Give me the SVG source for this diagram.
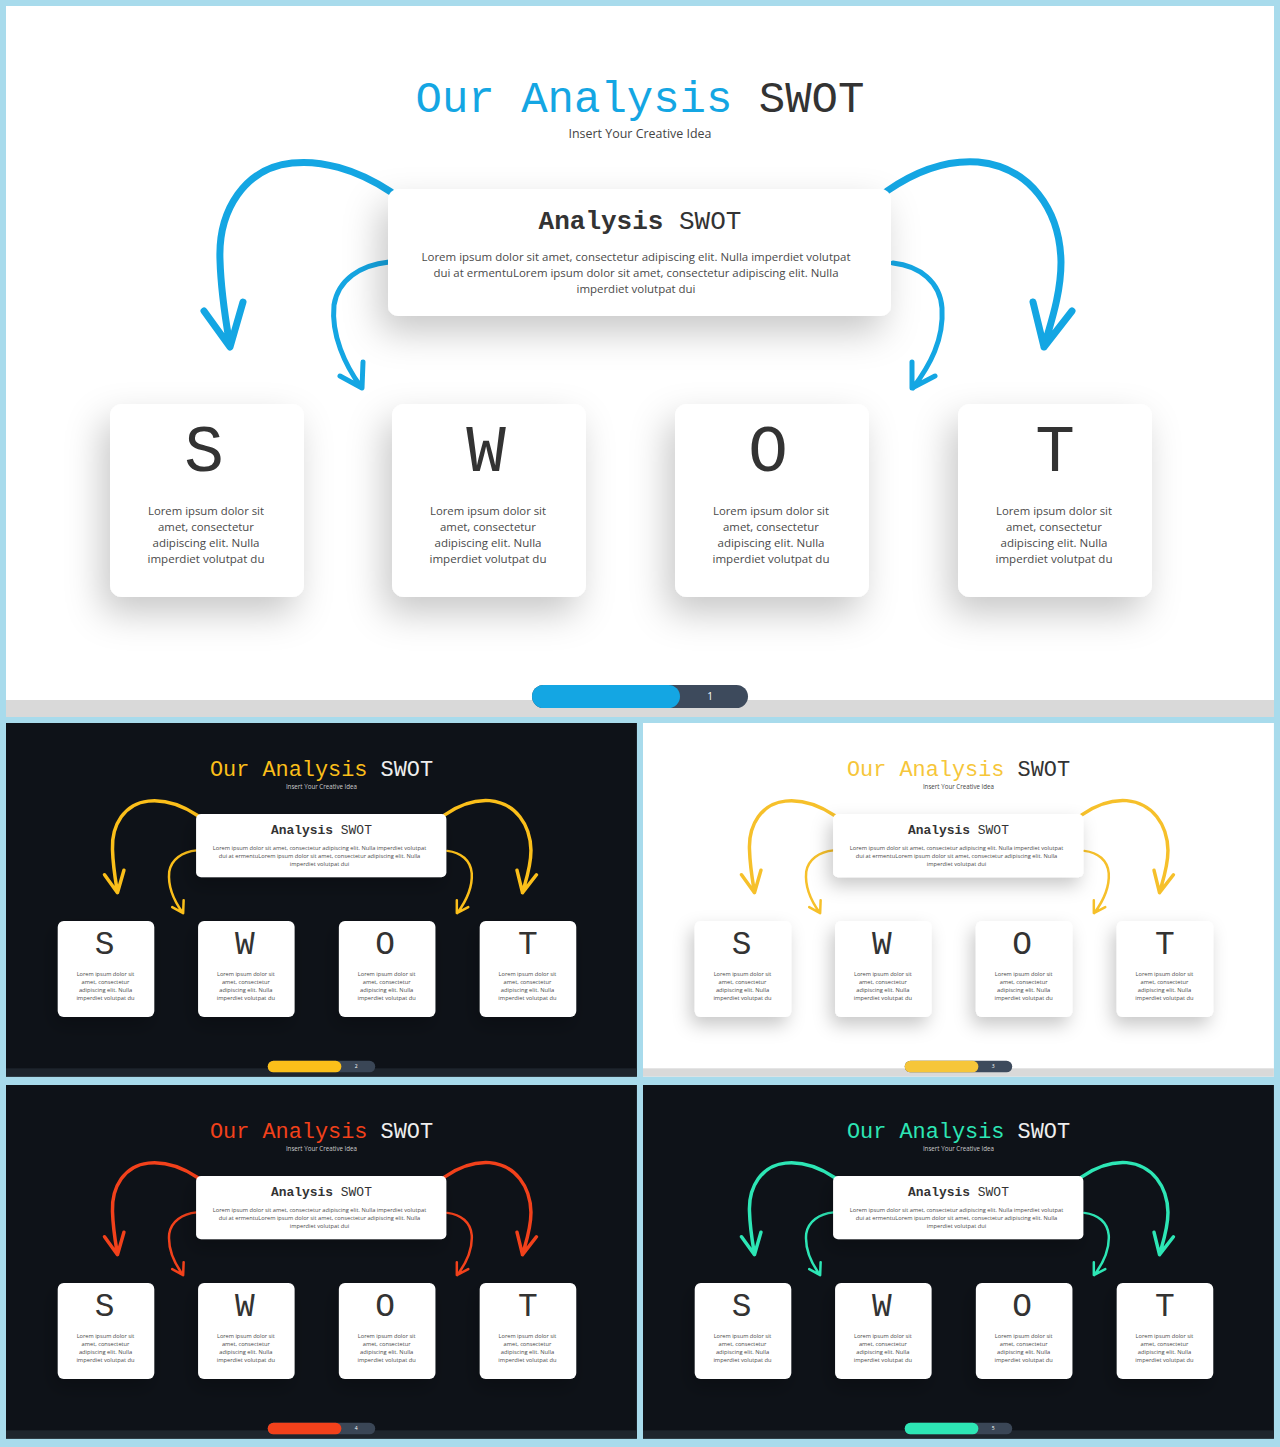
<svg xmlns="http://www.w3.org/2000/svg" width="1280" height="1447" viewBox="0 0 1280 1447">
<defs>
<style>
.mono{font-family:"Liberation Mono","DejaVu Sans Mono",monospace}
.sans{font-family:"Open Sans","Liberation Sans",sans-serif}
.slide-bg{fill:#ffffff}
.band{fill:#d9d9d9}
.title{font-size:44px;fill:#333333}
.subtitle{font-size:12.5px;fill:#444444}
.card{fill:#ffffff;filter:url(#sh)}
.htitle{font-size:26px;fill:#333333}
.body{font-size:11.5px;fill:#4a4a4a}
.letter{font-size:66px;fill:#333333}
.arrow{fill:none;stroke-linecap:round;stroke-linejoin:round}
.big{stroke-width:7}
.small{stroke-width:5}
.pill-bg{fill:#3d4a5c}
.pnum{font-size:10px;fill:#ffffff}
.dark .slide-bg{fill:#0e1218}
.dark .band{fill:#1e252d}
.dark .title{fill:#eeeeee}
.dark .subtitle{fill:#cccccc}
.dark .pill-bg{fill:#3a4656}
.th-blue .acc{fill:#14a6e3}.th-blue .arrow{stroke:#14a6e3}
.th-yellow .acc{fill:#fbbf1a}.th-yellow .arrow{stroke:#fbbf1a}
.th-yellow2 .acc{fill:#f6c63a}.th-yellow2 .arrow{stroke:#f6c02a}
.th-red .acc{fill:#f2411b}.th-red .arrow{stroke:#f2411b}
.th-teal .acc{fill:#2de6b5}.th-teal .arrow{stroke:#2de6b5}
</style>
<filter id="sh" x="-50%" y="-50%" width="200%" height="220%">
<feDropShadow dx="-8" dy="16" stdDeviation="18" flood-color="#000" flood-opacity="0.22"/>
</filter>
<clipPath id="clip"><rect x="6" y="6" width="1268" height="711"/></clipPath>
</defs>
<rect x="0" y="0" width="1280" height="1447" fill="#a8dbec"/>

<!-- Slide 1 -->
<g id="s1" class="th-blue" clip-path="url(#clip)">
<rect class="slide-bg" x="6" y="6" width="1268" height="711"/>
<rect class="band" x="6" y="700" width="1268" height="17"/>
<g id="s1-title">
<text class="mono title" x="640" y="112" text-anchor="middle"><tspan class="acc">Our Analysis</tspan> SWOT</text>
<text class="sans subtitle" x="640" y="138" text-anchor="middle" textLength="143" lengthAdjust="spacingAndGlyphs">Insert Your Creative Idea</text>
</g>
<g id="s1-connectors">
<path class="arrow big" d="M391,192 C355,168 320,160 292,163 C245,168 218,210 220,260 C221,295 226,322 230,346 M204,311 L230,347 L243,302"/>
<path class="arrow small" d="M389,262 C360,265 338,280 334,305 C331,335 345,365 361,387 M340,376 L362,388 L363,362"/>
<path class="arrow big" d="M887,191 C920,168 950,160 978,162 C1030,167 1060,210 1061,262 C1061,295 1050,325 1044,347 M1033,302 L1044,347 L1072,311"/>
<path class="arrow small" d="M893,263 C920,266 940,282 942,308 C944,340 930,365 913,388 M912,362 L912,388 L935,376"/>
</g>
<g id="s1-center">
<rect class="card" x="388" y="189" width="503" height="127" rx="10"/>
<text class="mono htitle" x="640" y="229" text-anchor="middle"><tspan font-weight="bold">Analysis</tspan> SWOT</text>
<text class="sans body" x="636" y="261" text-anchor="middle" textLength="429" lengthAdjust="spacingAndGlyphs">Lorem ipsum dolor sit amet, consectetur adipiscing elit. Nulla imperdiet volutpat</text>
<text class="sans body" x="636" y="277" text-anchor="middle" textLength="405" lengthAdjust="spacingAndGlyphs">dui at ermentuLorem ipsum dolor sit amet, consectetur adipiscing elit. Nulla</text>
<text class="sans body" x="636" y="293" text-anchor="middle" textLength="119" lengthAdjust="spacingAndGlyphs">imperdiet volutpat dui</text>
</g>
<g id="s1-card-s">
<rect class="card" x="110" y="404" width="194" height="193" rx="12"/>
<text class="mono letter" x="204" y="471" text-anchor="middle">S</text>
<text class="sans body" x="206" y="515" text-anchor="middle" textLength="116" lengthAdjust="spacingAndGlyphs">Lorem ipsum dolor sit</text>
<text class="sans body" x="206" y="531" text-anchor="middle" textLength="96" lengthAdjust="spacingAndGlyphs">amet, consectetur</text>
<text class="sans body" x="206" y="547" text-anchor="middle" textLength="107" lengthAdjust="spacingAndGlyphs">adipiscing elit. Nulla</text>
<text class="sans body" x="206" y="563" text-anchor="middle" textLength="117" lengthAdjust="spacingAndGlyphs">imperdiet volutpat du</text>
</g>
<g id="s1-card-w">
<rect class="card" x="392" y="404" width="194" height="193" rx="12"/>
<text class="mono letter" x="486" y="471" text-anchor="middle">W</text>
<text class="sans body" x="488" y="515" text-anchor="middle" textLength="116" lengthAdjust="spacingAndGlyphs">Lorem ipsum dolor sit</text>
<text class="sans body" x="488" y="531" text-anchor="middle" textLength="96" lengthAdjust="spacingAndGlyphs">amet, consectetur</text>
<text class="sans body" x="488" y="547" text-anchor="middle" textLength="107" lengthAdjust="spacingAndGlyphs">adipiscing elit. Nulla</text>
<text class="sans body" x="488" y="563" text-anchor="middle" textLength="117" lengthAdjust="spacingAndGlyphs">imperdiet volutpat du</text>
</g>
<g id="s1-card-o">
<rect class="card" x="675" y="404" width="194" height="193" rx="12"/>
<text class="mono letter" x="768" y="471" text-anchor="middle">O</text>
<text class="sans body" x="771" y="515" text-anchor="middle" textLength="116" lengthAdjust="spacingAndGlyphs">Lorem ipsum dolor sit</text>
<text class="sans body" x="771" y="531" text-anchor="middle" textLength="96" lengthAdjust="spacingAndGlyphs">amet, consectetur</text>
<text class="sans body" x="771" y="547" text-anchor="middle" textLength="107" lengthAdjust="spacingAndGlyphs">adipiscing elit. Nulla</text>
<text class="sans body" x="771" y="563" text-anchor="middle" textLength="117" lengthAdjust="spacingAndGlyphs">imperdiet volutpat du</text>
</g>
<g id="s1-card-t">
<rect class="card" x="958" y="404" width="194" height="193" rx="12"/>
<text class="mono letter" x="1055" y="471" text-anchor="middle">T</text>
<text class="sans body" x="1054" y="515" text-anchor="middle" textLength="116" lengthAdjust="spacingAndGlyphs">Lorem ipsum dolor sit</text>
<text class="sans body" x="1054" y="531" text-anchor="middle" textLength="96" lengthAdjust="spacingAndGlyphs">amet, consectetur</text>
<text class="sans body" x="1054" y="547" text-anchor="middle" textLength="107" lengthAdjust="spacingAndGlyphs">adipiscing elit. Nulla</text>
<text class="sans body" x="1054" y="563" text-anchor="middle" textLength="117" lengthAdjust="spacingAndGlyphs">imperdiet volutpat du</text>
</g>
<g id="s1-progress">
<rect class="pill-bg" x="532" y="685" width="216" height="23" rx="11.5"/>
<rect class="acc" x="532" y="685" width="148" height="23" rx="11.5"/>
<text class="sans pnum" x="710" y="700" text-anchor="middle">1</text>
</g>
</g>

<!-- Slide 2 -->
<g id="s2" class="th-yellow dark" transform="translate(6,723) scale(0.4976) translate(-6,-6)" clip-path="url(#clip)">
<rect class="slide-bg" x="6" y="6" width="1268" height="711"/>
<rect class="band" x="6" y="700" width="1268" height="17"/>
<g id="s2-title">
<text class="mono title" x="640" y="112" text-anchor="middle"><tspan class="acc">Our Analysis</tspan> SWOT</text>
<text class="sans subtitle" x="640" y="138" text-anchor="middle" textLength="143" lengthAdjust="spacingAndGlyphs">Insert Your Creative Idea</text>
</g>
<g id="s2-connectors">
<path class="arrow big" d="M391,192 C355,168 320,160 292,163 C245,168 218,210 220,260 C221,295 226,322 230,346 M204,311 L230,347 L243,302"/>
<path class="arrow small" d="M389,262 C360,265 338,280 334,305 C331,335 345,365 361,387 M340,376 L362,388 L363,362"/>
<path class="arrow big" d="M887,191 C920,168 950,160 978,162 C1030,167 1060,210 1061,262 C1061,295 1050,325 1044,347 M1033,302 L1044,347 L1072,311"/>
<path class="arrow small" d="M893,263 C920,266 940,282 942,308 C944,340 930,365 913,388 M912,362 L912,388 L935,376"/>
</g>
<g id="s2-center">
<rect class="card" x="388" y="189" width="503" height="127" rx="10"/>
<text class="mono htitle" x="640" y="229" text-anchor="middle"><tspan font-weight="bold">Analysis</tspan> SWOT</text>
<text class="sans body" x="636" y="261" text-anchor="middle" textLength="429" lengthAdjust="spacingAndGlyphs">Lorem ipsum dolor sit amet, consectetur adipiscing elit. Nulla imperdiet volutpat</text>
<text class="sans body" x="636" y="277" text-anchor="middle" textLength="405" lengthAdjust="spacingAndGlyphs">dui at ermentuLorem ipsum dolor sit amet, consectetur adipiscing elit. Nulla</text>
<text class="sans body" x="636" y="293" text-anchor="middle" textLength="119" lengthAdjust="spacingAndGlyphs">imperdiet volutpat dui</text>
</g>
<g id="s2-card-s">
<rect class="card" x="110" y="404" width="194" height="193" rx="12"/>
<text class="mono letter" x="204" y="471" text-anchor="middle">S</text>
<text class="sans body" x="206" y="515" text-anchor="middle" textLength="116" lengthAdjust="spacingAndGlyphs">Lorem ipsum dolor sit</text>
<text class="sans body" x="206" y="531" text-anchor="middle" textLength="96" lengthAdjust="spacingAndGlyphs">amet, consectetur</text>
<text class="sans body" x="206" y="547" text-anchor="middle" textLength="107" lengthAdjust="spacingAndGlyphs">adipiscing elit. Nulla</text>
<text class="sans body" x="206" y="563" text-anchor="middle" textLength="117" lengthAdjust="spacingAndGlyphs">imperdiet volutpat du</text>
</g>
<g id="s2-card-w">
<rect class="card" x="392" y="404" width="194" height="193" rx="12"/>
<text class="mono letter" x="486" y="471" text-anchor="middle">W</text>
<text class="sans body" x="488" y="515" text-anchor="middle" textLength="116" lengthAdjust="spacingAndGlyphs">Lorem ipsum dolor sit</text>
<text class="sans body" x="488" y="531" text-anchor="middle" textLength="96" lengthAdjust="spacingAndGlyphs">amet, consectetur</text>
<text class="sans body" x="488" y="547" text-anchor="middle" textLength="107" lengthAdjust="spacingAndGlyphs">adipiscing elit. Nulla</text>
<text class="sans body" x="488" y="563" text-anchor="middle" textLength="117" lengthAdjust="spacingAndGlyphs">imperdiet volutpat du</text>
</g>
<g id="s2-card-o">
<rect class="card" x="675" y="404" width="194" height="193" rx="12"/>
<text class="mono letter" x="768" y="471" text-anchor="middle">O</text>
<text class="sans body" x="771" y="515" text-anchor="middle" textLength="116" lengthAdjust="spacingAndGlyphs">Lorem ipsum dolor sit</text>
<text class="sans body" x="771" y="531" text-anchor="middle" textLength="96" lengthAdjust="spacingAndGlyphs">amet, consectetur</text>
<text class="sans body" x="771" y="547" text-anchor="middle" textLength="107" lengthAdjust="spacingAndGlyphs">adipiscing elit. Nulla</text>
<text class="sans body" x="771" y="563" text-anchor="middle" textLength="117" lengthAdjust="spacingAndGlyphs">imperdiet volutpat du</text>
</g>
<g id="s2-card-t">
<rect class="card" x="958" y="404" width="194" height="193" rx="12"/>
<text class="mono letter" x="1055" y="471" text-anchor="middle">T</text>
<text class="sans body" x="1054" y="515" text-anchor="middle" textLength="116" lengthAdjust="spacingAndGlyphs">Lorem ipsum dolor sit</text>
<text class="sans body" x="1054" y="531" text-anchor="middle" textLength="96" lengthAdjust="spacingAndGlyphs">amet, consectetur</text>
<text class="sans body" x="1054" y="547" text-anchor="middle" textLength="107" lengthAdjust="spacingAndGlyphs">adipiscing elit. Nulla</text>
<text class="sans body" x="1054" y="563" text-anchor="middle" textLength="117" lengthAdjust="spacingAndGlyphs">imperdiet volutpat du</text>
</g>
<g id="s2-progress">
<rect class="pill-bg" x="532" y="685" width="216" height="23" rx="11.5"/>
<rect class="acc" x="532" y="685" width="148" height="23" rx="11.5"/>
<text class="sans pnum" x="710" y="700" text-anchor="middle">2</text>
</g>
</g>

<!-- Slide 3 -->
<g id="s3" class="th-yellow2" transform="translate(643,723) scale(0.4976) translate(-6,-6)" clip-path="url(#clip)">
<rect class="slide-bg" x="6" y="6" width="1268" height="711"/>
<rect class="band" x="6" y="700" width="1268" height="17"/>
<g id="s3-title">
<text class="mono title" x="640" y="112" text-anchor="middle"><tspan class="acc">Our Analysis</tspan> SWOT</text>
<text class="sans subtitle" x="640" y="138" text-anchor="middle" textLength="143" lengthAdjust="spacingAndGlyphs">Insert Your Creative Idea</text>
</g>
<g id="s3-connectors">
<path class="arrow big" d="M391,192 C355,168 320,160 292,163 C245,168 218,210 220,260 C221,295 226,322 230,346 M204,311 L230,347 L243,302"/>
<path class="arrow small" d="M389,262 C360,265 338,280 334,305 C331,335 345,365 361,387 M340,376 L362,388 L363,362"/>
<path class="arrow big" d="M887,191 C920,168 950,160 978,162 C1030,167 1060,210 1061,262 C1061,295 1050,325 1044,347 M1033,302 L1044,347 L1072,311"/>
<path class="arrow small" d="M893,263 C920,266 940,282 942,308 C944,340 930,365 913,388 M912,362 L912,388 L935,376"/>
</g>
<g id="s3-center">
<rect class="card" x="388" y="189" width="503" height="127" rx="10"/>
<text class="mono htitle" x="640" y="229" text-anchor="middle"><tspan font-weight="bold">Analysis</tspan> SWOT</text>
<text class="sans body" x="636" y="261" text-anchor="middle" textLength="429" lengthAdjust="spacingAndGlyphs">Lorem ipsum dolor sit amet, consectetur adipiscing elit. Nulla imperdiet volutpat</text>
<text class="sans body" x="636" y="277" text-anchor="middle" textLength="405" lengthAdjust="spacingAndGlyphs">dui at ermentuLorem ipsum dolor sit amet, consectetur adipiscing elit. Nulla</text>
<text class="sans body" x="636" y="293" text-anchor="middle" textLength="119" lengthAdjust="spacingAndGlyphs">imperdiet volutpat dui</text>
</g>
<g id="s3-card-s">
<rect class="card" x="110" y="404" width="194" height="193" rx="12"/>
<text class="mono letter" x="204" y="471" text-anchor="middle">S</text>
<text class="sans body" x="206" y="515" text-anchor="middle" textLength="116" lengthAdjust="spacingAndGlyphs">Lorem ipsum dolor sit</text>
<text class="sans body" x="206" y="531" text-anchor="middle" textLength="96" lengthAdjust="spacingAndGlyphs">amet, consectetur</text>
<text class="sans body" x="206" y="547" text-anchor="middle" textLength="107" lengthAdjust="spacingAndGlyphs">adipiscing elit. Nulla</text>
<text class="sans body" x="206" y="563" text-anchor="middle" textLength="117" lengthAdjust="spacingAndGlyphs">imperdiet volutpat du</text>
</g>
<g id="s3-card-w">
<rect class="card" x="392" y="404" width="194" height="193" rx="12"/>
<text class="mono letter" x="486" y="471" text-anchor="middle">W</text>
<text class="sans body" x="488" y="515" text-anchor="middle" textLength="116" lengthAdjust="spacingAndGlyphs">Lorem ipsum dolor sit</text>
<text class="sans body" x="488" y="531" text-anchor="middle" textLength="96" lengthAdjust="spacingAndGlyphs">amet, consectetur</text>
<text class="sans body" x="488" y="547" text-anchor="middle" textLength="107" lengthAdjust="spacingAndGlyphs">adipiscing elit. Nulla</text>
<text class="sans body" x="488" y="563" text-anchor="middle" textLength="117" lengthAdjust="spacingAndGlyphs">imperdiet volutpat du</text>
</g>
<g id="s3-card-o">
<rect class="card" x="675" y="404" width="194" height="193" rx="12"/>
<text class="mono letter" x="768" y="471" text-anchor="middle">O</text>
<text class="sans body" x="771" y="515" text-anchor="middle" textLength="116" lengthAdjust="spacingAndGlyphs">Lorem ipsum dolor sit</text>
<text class="sans body" x="771" y="531" text-anchor="middle" textLength="96" lengthAdjust="spacingAndGlyphs">amet, consectetur</text>
<text class="sans body" x="771" y="547" text-anchor="middle" textLength="107" lengthAdjust="spacingAndGlyphs">adipiscing elit. Nulla</text>
<text class="sans body" x="771" y="563" text-anchor="middle" textLength="117" lengthAdjust="spacingAndGlyphs">imperdiet volutpat du</text>
</g>
<g id="s3-card-t">
<rect class="card" x="958" y="404" width="194" height="193" rx="12"/>
<text class="mono letter" x="1055" y="471" text-anchor="middle">T</text>
<text class="sans body" x="1054" y="515" text-anchor="middle" textLength="116" lengthAdjust="spacingAndGlyphs">Lorem ipsum dolor sit</text>
<text class="sans body" x="1054" y="531" text-anchor="middle" textLength="96" lengthAdjust="spacingAndGlyphs">amet, consectetur</text>
<text class="sans body" x="1054" y="547" text-anchor="middle" textLength="107" lengthAdjust="spacingAndGlyphs">adipiscing elit. Nulla</text>
<text class="sans body" x="1054" y="563" text-anchor="middle" textLength="117" lengthAdjust="spacingAndGlyphs">imperdiet volutpat du</text>
</g>
<g id="s3-progress">
<rect class="pill-bg" x="532" y="685" width="216" height="23" rx="11.5"/>
<rect class="acc" x="532" y="685" width="148" height="23" rx="11.5"/>
<text class="sans pnum" x="710" y="700" text-anchor="middle">3</text>
</g>
</g>

<!-- Slide 4 -->
<g id="s4" class="th-red dark" transform="translate(6,1085) scale(0.4976) translate(-6,-6)" clip-path="url(#clip)">
<rect class="slide-bg" x="6" y="6" width="1268" height="711"/>
<rect class="band" x="6" y="700" width="1268" height="17"/>
<g id="s4-title">
<text class="mono title" x="640" y="112" text-anchor="middle"><tspan class="acc">Our Analysis</tspan> SWOT</text>
<text class="sans subtitle" x="640" y="138" text-anchor="middle" textLength="143" lengthAdjust="spacingAndGlyphs">Insert Your Creative Idea</text>
</g>
<g id="s4-connectors">
<path class="arrow big" d="M391,192 C355,168 320,160 292,163 C245,168 218,210 220,260 C221,295 226,322 230,346 M204,311 L230,347 L243,302"/>
<path class="arrow small" d="M389,262 C360,265 338,280 334,305 C331,335 345,365 361,387 M340,376 L362,388 L363,362"/>
<path class="arrow big" d="M887,191 C920,168 950,160 978,162 C1030,167 1060,210 1061,262 C1061,295 1050,325 1044,347 M1033,302 L1044,347 L1072,311"/>
<path class="arrow small" d="M893,263 C920,266 940,282 942,308 C944,340 930,365 913,388 M912,362 L912,388 L935,376"/>
</g>
<g id="s4-center">
<rect class="card" x="388" y="189" width="503" height="127" rx="10"/>
<text class="mono htitle" x="640" y="229" text-anchor="middle"><tspan font-weight="bold">Analysis</tspan> SWOT</text>
<text class="sans body" x="636" y="261" text-anchor="middle" textLength="429" lengthAdjust="spacingAndGlyphs">Lorem ipsum dolor sit amet, consectetur adipiscing elit. Nulla imperdiet volutpat</text>
<text class="sans body" x="636" y="277" text-anchor="middle" textLength="405" lengthAdjust="spacingAndGlyphs">dui at ermentuLorem ipsum dolor sit amet, consectetur adipiscing elit. Nulla</text>
<text class="sans body" x="636" y="293" text-anchor="middle" textLength="119" lengthAdjust="spacingAndGlyphs">imperdiet volutpat dui</text>
</g>
<g id="s4-card-s">
<rect class="card" x="110" y="404" width="194" height="193" rx="12"/>
<text class="mono letter" x="204" y="471" text-anchor="middle">S</text>
<text class="sans body" x="206" y="515" text-anchor="middle" textLength="116" lengthAdjust="spacingAndGlyphs">Lorem ipsum dolor sit</text>
<text class="sans body" x="206" y="531" text-anchor="middle" textLength="96" lengthAdjust="spacingAndGlyphs">amet, consectetur</text>
<text class="sans body" x="206" y="547" text-anchor="middle" textLength="107" lengthAdjust="spacingAndGlyphs">adipiscing elit. Nulla</text>
<text class="sans body" x="206" y="563" text-anchor="middle" textLength="117" lengthAdjust="spacingAndGlyphs">imperdiet volutpat du</text>
</g>
<g id="s4-card-w">
<rect class="card" x="392" y="404" width="194" height="193" rx="12"/>
<text class="mono letter" x="486" y="471" text-anchor="middle">W</text>
<text class="sans body" x="488" y="515" text-anchor="middle" textLength="116" lengthAdjust="spacingAndGlyphs">Lorem ipsum dolor sit</text>
<text class="sans body" x="488" y="531" text-anchor="middle" textLength="96" lengthAdjust="spacingAndGlyphs">amet, consectetur</text>
<text class="sans body" x="488" y="547" text-anchor="middle" textLength="107" lengthAdjust="spacingAndGlyphs">adipiscing elit. Nulla</text>
<text class="sans body" x="488" y="563" text-anchor="middle" textLength="117" lengthAdjust="spacingAndGlyphs">imperdiet volutpat du</text>
</g>
<g id="s4-card-o">
<rect class="card" x="675" y="404" width="194" height="193" rx="12"/>
<text class="mono letter" x="768" y="471" text-anchor="middle">O</text>
<text class="sans body" x="771" y="515" text-anchor="middle" textLength="116" lengthAdjust="spacingAndGlyphs">Lorem ipsum dolor sit</text>
<text class="sans body" x="771" y="531" text-anchor="middle" textLength="96" lengthAdjust="spacingAndGlyphs">amet, consectetur</text>
<text class="sans body" x="771" y="547" text-anchor="middle" textLength="107" lengthAdjust="spacingAndGlyphs">adipiscing elit. Nulla</text>
<text class="sans body" x="771" y="563" text-anchor="middle" textLength="117" lengthAdjust="spacingAndGlyphs">imperdiet volutpat du</text>
</g>
<g id="s4-card-t">
<rect class="card" x="958" y="404" width="194" height="193" rx="12"/>
<text class="mono letter" x="1055" y="471" text-anchor="middle">T</text>
<text class="sans body" x="1054" y="515" text-anchor="middle" textLength="116" lengthAdjust="spacingAndGlyphs">Lorem ipsum dolor sit</text>
<text class="sans body" x="1054" y="531" text-anchor="middle" textLength="96" lengthAdjust="spacingAndGlyphs">amet, consectetur</text>
<text class="sans body" x="1054" y="547" text-anchor="middle" textLength="107" lengthAdjust="spacingAndGlyphs">adipiscing elit. Nulla</text>
<text class="sans body" x="1054" y="563" text-anchor="middle" textLength="117" lengthAdjust="spacingAndGlyphs">imperdiet volutpat du</text>
</g>
<g id="s4-progress">
<rect class="pill-bg" x="532" y="685" width="216" height="23" rx="11.5"/>
<rect class="acc" x="532" y="685" width="148" height="23" rx="11.5"/>
<text class="sans pnum" x="710" y="700" text-anchor="middle">4</text>
</g>
</g>

<!-- Slide 5 -->
<g id="s5" class="th-teal dark" transform="translate(643,1085) scale(0.4976) translate(-6,-6)" clip-path="url(#clip)">
<rect class="slide-bg" x="6" y="6" width="1268" height="711"/>
<rect class="band" x="6" y="700" width="1268" height="17"/>
<g id="s5-title">
<text class="mono title" x="640" y="112" text-anchor="middle"><tspan class="acc">Our Analysis</tspan> SWOT</text>
<text class="sans subtitle" x="640" y="138" text-anchor="middle" textLength="143" lengthAdjust="spacingAndGlyphs">Insert Your Creative Idea</text>
</g>
<g id="s5-connectors">
<path class="arrow big" d="M391,192 C355,168 320,160 292,163 C245,168 218,210 220,260 C221,295 226,322 230,346 M204,311 L230,347 L243,302"/>
<path class="arrow small" d="M389,262 C360,265 338,280 334,305 C331,335 345,365 361,387 M340,376 L362,388 L363,362"/>
<path class="arrow big" d="M887,191 C920,168 950,160 978,162 C1030,167 1060,210 1061,262 C1061,295 1050,325 1044,347 M1033,302 L1044,347 L1072,311"/>
<path class="arrow small" d="M893,263 C920,266 940,282 942,308 C944,340 930,365 913,388 M912,362 L912,388 L935,376"/>
</g>
<g id="s5-center">
<rect class="card" x="388" y="189" width="503" height="127" rx="10"/>
<text class="mono htitle" x="640" y="229" text-anchor="middle"><tspan font-weight="bold">Analysis</tspan> SWOT</text>
<text class="sans body" x="636" y="261" text-anchor="middle" textLength="429" lengthAdjust="spacingAndGlyphs">Lorem ipsum dolor sit amet, consectetur adipiscing elit. Nulla imperdiet volutpat</text>
<text class="sans body" x="636" y="277" text-anchor="middle" textLength="405" lengthAdjust="spacingAndGlyphs">dui at ermentuLorem ipsum dolor sit amet, consectetur adipiscing elit. Nulla</text>
<text class="sans body" x="636" y="293" text-anchor="middle" textLength="119" lengthAdjust="spacingAndGlyphs">imperdiet volutpat dui</text>
</g>
<g id="s5-card-s">
<rect class="card" x="110" y="404" width="194" height="193" rx="12"/>
<text class="mono letter" x="204" y="471" text-anchor="middle">S</text>
<text class="sans body" x="206" y="515" text-anchor="middle" textLength="116" lengthAdjust="spacingAndGlyphs">Lorem ipsum dolor sit</text>
<text class="sans body" x="206" y="531" text-anchor="middle" textLength="96" lengthAdjust="spacingAndGlyphs">amet, consectetur</text>
<text class="sans body" x="206" y="547" text-anchor="middle" textLength="107" lengthAdjust="spacingAndGlyphs">adipiscing elit. Nulla</text>
<text class="sans body" x="206" y="563" text-anchor="middle" textLength="117" lengthAdjust="spacingAndGlyphs">imperdiet volutpat du</text>
</g>
<g id="s5-card-w">
<rect class="card" x="392" y="404" width="194" height="193" rx="12"/>
<text class="mono letter" x="486" y="471" text-anchor="middle">W</text>
<text class="sans body" x="488" y="515" text-anchor="middle" textLength="116" lengthAdjust="spacingAndGlyphs">Lorem ipsum dolor sit</text>
<text class="sans body" x="488" y="531" text-anchor="middle" textLength="96" lengthAdjust="spacingAndGlyphs">amet, consectetur</text>
<text class="sans body" x="488" y="547" text-anchor="middle" textLength="107" lengthAdjust="spacingAndGlyphs">adipiscing elit. Nulla</text>
<text class="sans body" x="488" y="563" text-anchor="middle" textLength="117" lengthAdjust="spacingAndGlyphs">imperdiet volutpat du</text>
</g>
<g id="s5-card-o">
<rect class="card" x="675" y="404" width="194" height="193" rx="12"/>
<text class="mono letter" x="768" y="471" text-anchor="middle">O</text>
<text class="sans body" x="771" y="515" text-anchor="middle" textLength="116" lengthAdjust="spacingAndGlyphs">Lorem ipsum dolor sit</text>
<text class="sans body" x="771" y="531" text-anchor="middle" textLength="96" lengthAdjust="spacingAndGlyphs">amet, consectetur</text>
<text class="sans body" x="771" y="547" text-anchor="middle" textLength="107" lengthAdjust="spacingAndGlyphs">adipiscing elit. Nulla</text>
<text class="sans body" x="771" y="563" text-anchor="middle" textLength="117" lengthAdjust="spacingAndGlyphs">imperdiet volutpat du</text>
</g>
<g id="s5-card-t">
<rect class="card" x="958" y="404" width="194" height="193" rx="12"/>
<text class="mono letter" x="1055" y="471" text-anchor="middle">T</text>
<text class="sans body" x="1054" y="515" text-anchor="middle" textLength="116" lengthAdjust="spacingAndGlyphs">Lorem ipsum dolor sit</text>
<text class="sans body" x="1054" y="531" text-anchor="middle" textLength="96" lengthAdjust="spacingAndGlyphs">amet, consectetur</text>
<text class="sans body" x="1054" y="547" text-anchor="middle" textLength="107" lengthAdjust="spacingAndGlyphs">adipiscing elit. Nulla</text>
<text class="sans body" x="1054" y="563" text-anchor="middle" textLength="117" lengthAdjust="spacingAndGlyphs">imperdiet volutpat du</text>
</g>
<g id="s5-progress">
<rect class="pill-bg" x="532" y="685" width="216" height="23" rx="11.5"/>
<rect class="acc" x="532" y="685" width="148" height="23" rx="11.5"/>
<text class="sans pnum" x="710" y="700" text-anchor="middle">5</text>
</g>
</g>
</svg>
